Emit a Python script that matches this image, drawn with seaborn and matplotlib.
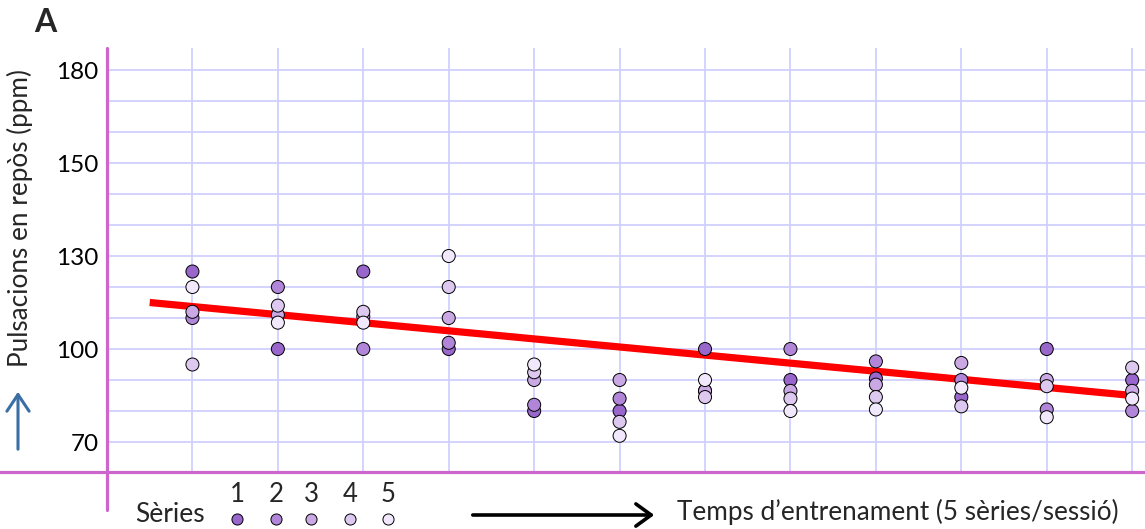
import numpy as np
import pandas as pd
import matplotlib
matplotlib.use("Agg")
import matplotlib.pyplot as plt
import seaborn as sns
from matplotlib.lines import Line2D
from matplotlib.patches import FancyArrowPatch

# ---------------- data ----------------
sessions = list(range(1, 13))
serie_1 = [125, 100, 125, 100, 80, 80, 100, 90, 90.5, 84.5, 100, 90]
serie_2 = [110, 120, 100, 102, 82, 84, 86.5, 100, 96, 90, 80.5, 80]
serie_3 = [112, 111, 110.5, 110, 90, 90, 86.5, 86.5, 88.5, 95.5, 90, 86.5]
serie_4 = [95, 114, 112, 120, 92.5, 76.5, 84.5, 84, 84.5, 81.5, 88, 94]
serie_5 = [120, 108.5, 108.5, 130, 95, 72, 90, 80, 80.5, 87.5, 78, 84]
series_names = ["1", "2", "3", "4", "5"]
series_colors = ["#9966cc", "#b186d8", "#c9a8e4", "#ddc9f0", "#f2e8fb"]
trend_x = [0.5, 12]
trend_y = [115, 85]
ytick_pos = [70, 100, 130, 160, 190]
ytick_labels = ["70", "100", "130", "150", "180"]
ylabel = "Pulsacions en repòs (ppm)"
xlabel = "Temps d\u2019entrenament (5 sèries/sessió)"
legend_title = "Sèries"

frames = []
for name, vals in zip(series_names, [serie_1, serie_2, serie_3, serie_4, serie_5]):
    frames.append(pd.DataFrame({"session": sessions, "pulse": vals, "series": name}))
df = pd.concat(frames, ignore_index=True)

# ---------------- style ----------------
sns.set_theme(style="white")
plt.rcParams["font.family"] = ["Lato", "DejaVu Sans"]

W, H = 1145, 529
fig = plt.figure(figsize=(W / 100, H / 100), dpi=100)
ax = fig.add_axes([107 / W, 56 / H, 1038 / W, 425 / H])

mag = "#cc66cc"
grid_c = "#d0d0ff"

ax.set_xlim(0, 12.15)
ax.set_ylim(60.3, 197.1)
ax.set_xticks(sessions)
ax.set_xticklabels([])
ax.set_yticks(ytick_pos)
ax.set_yticklabels(ytick_labels, fontsize=17.5)
ax.set_yticks(list(range(60, 191, 10)), minor=True)
ax.tick_params(axis="both", which="both", length=0)
ax.tick_params(axis="y", pad=6, labelcolor="black")
ax.grid(True, which="both", color=grid_c, lw=1.3)
ax.set_axisbelow(True)
for s in ax.spines.values():
    s.set_visible(False)

# trend line
ax.plot(trend_x, trend_y, color="#ff0000", lw=5.2, solid_capstyle="butt", zorder=2)

# points
sns.scatterplot(data=df, x="session", y="pulse", hue="series", palette=series_colors,
                s=88, edgecolor="black", linewidth=0.7, legend=False, zorder=3, ax=ax)
ax.set_xlabel("")
ax.set_ylabel("")

# axes lines (extended)
ax.axvline(0, ymin=-(510 - 473) / 425, ymax=1, color=mag, lw=2.3, clip_on=False, zorder=4)
ax.axhline(60.3, xmin=-107 / 1038, xmax=1, color=mag, lw=2.3, clip_on=False, zorder=4)

# y label and arrow
fig.text(20 / W, 1 - 218 / H, ylabel, rotation=90, ha="center", va="center", fontsize=18.8)
fig.add_artist(FancyArrowPatch((18 / W, 1 - 452 / H), (18 / W, 1 - 389 / H),
                               transform=fig.transFigure, arrowstyle="->,head_length=0.6,head_width=0.4",
                               mutation_scale=20, color="#3b6ea5", lw=2.2))

# panel letter
fig.text(45 / W, 1 - 23 / H, "A", ha="center", va="center", fontsize=23, fontweight="bold")

# legend row
fig.text(170 / W, 1 - 515 / H, legend_title, ha="center", va="center", fontsize=19)
leg_x = [237, 276, 311, 350, 388]
for lx, name, col in zip(leg_x, series_names, series_colors):
    fig.text(lx / W, 1 - 495 / H, name, ha="center", va="center", fontsize=18.5)
    fig.add_artist(Line2D([lx / W], [1 - 519 / H], marker="o", ms=8, mfc=col, mec="black",
                          mew=0.7, transform=fig.transFigure))

# x arrow + label
fig.add_artist(FancyArrowPatch((470 / W, 1 - 515 / H), (657 / W, 1 - 515 / H),
                               transform=fig.transFigure, arrowstyle="->,head_length=0.55,head_width=0.4",
                               mutation_scale=20, color="black", lw=2.6))
fig.text(677 / W, 1 - 512 / H, xlabel, ha="left", va="center", fontsize=18.8)

fig.savefig("out.png", dpi=100)
